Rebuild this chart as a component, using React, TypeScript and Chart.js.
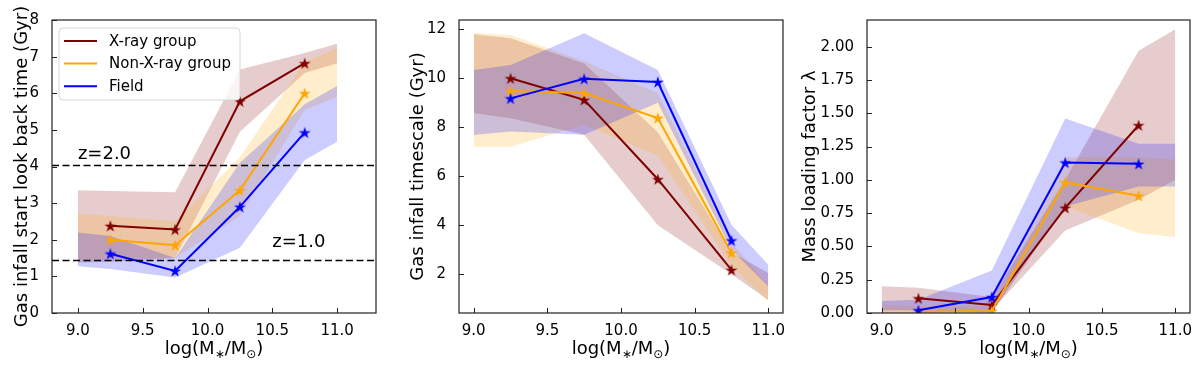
import React, { useEffect, useRef } from "react";
import { Chart, registerables } from "chart.js";
Chart.register(...registerables);

// ---------- shared data ----------
const massBins = [9.25, 9.75, 10.25, 10.75];
const bandMass = [9.0, 9.25, 9.75, 10.25, 10.75, 11.0];
const xTicks = [9.0, 9.5, 10.0, 10.5, 11.0];
const seriesNames = ["X-ray group", "Non-X-ray group", "Field"];
const seriesColors = ["#800000", "#ffa500", "#0000ff"];
const bandColors = ["rgba(128,0,0,0.2)", "rgba(255,165,0,0.2)", "rgba(0,0,255,0.2)"];

// ---------- panel 1: gas infall start look back time ----------
const startXray = [2.38, 2.28, 5.78, 6.82];
const startNonXray = [2.0, 1.85, 3.35, 6.0];
const startField = [1.62, 1.15, 2.9, 4.93];
const startXrayHi = [3.35, 3.33, 3.3, 6.65, 7.1, 7.35];
const startXrayLo = [1.37, 1.4, 1.5, 4.95, 6.55, 6.82];
const startNonXrayHi = [2.72, 2.65, 2.5, 4.25, 6.85, 7.23];
const startNonXrayLo = [1.45, 1.5, 1.5, 2.65, 5.55, 5.9];
const startFieldHi = [2.2, 2.1, 1.5, 4.1, 5.7, 6.2];
const startFieldLo = [1.28, 1.2, 0.97, 1.78, 4.18, 4.68];
const startTicks = [0, 1, 2, 3, 4, 5, 6, 7, 8];
const redshiftLabels = ["z=2.0", "z=1.0"];
const redshiftLookback = [4.04, 1.45];

// ---------- panel 2: gas infall timescale ----------
const tauXray = [10.0, 9.12, 5.88, 2.18];
const tauNonXray = [9.48, 9.4, 8.38, 2.88];
const tauField = [9.18, 9.98, 9.85, 3.38];
const tauXrayHi = [11.8, 11.63, 10.6, 7.8, 2.9, 2.05];
const tauXrayLo = [8.58, 8.37, 7.7, 4.0, 2.0, 0.95];
const tauNonXrayHi = [11.85, 11.77, 10.7, 9.4, 3.3, 1.55];
const tauNonXrayLo = [7.21, 7.21, 8.1, 6.85, 2.35, 0.9];
const tauFieldHi = [10.34, 10.54, 11.84, 10.34, 4.02, 2.39];
const tauFieldLo = [7.69, 7.83, 7.7, 9.0, 3.0, 1.5];
const tauTicks = [2, 4, 6, 8, 10, 12];

// ---------- panel 3: mass loading factor ----------
const lambdaXray = [0.11, 0.06, 0.79, 1.41];
const lambdaNonXray = [0.01, 0.015, 0.98, 0.88];
const lambdaField = [0.02, 0.12, 1.13, 1.12];
const lambdaXrayHi = [0.2, 0.19, 0.12, 1.0, 1.97, 2.13];
const lambdaXrayLo = [0.0, 0.0, 0.02, 0.62, 0.85, 1.0];
const lambdaNonXrayHi = [0.06, 0.05, 0.05, 1.17, 1.17, 1.15];
const lambdaNonXrayLo = [0.0, 0.0, 0.0, 0.8, 0.6, 0.57];
const lambdaFieldHi = [0.09, 0.1, 0.32, 1.46, 1.27, 1.27];
const lambdaFieldLo = [0.02, 0.02, 0.0, 0.8, 0.95, 0.95];
const lambdaTicks = [0, 0.25, 0.5, 0.75, 1.0, 1.25, 1.5, 1.75, 2.0];

const FONT = "'DejaVu Sans', sans-serif";

type PanelSpec = {
  left: number;
  width: number;
  yAxisWidth: number;
  padRight: number;
  xMin: number;
  xMax: number;
  yMin: number;
  yMax: number;
  yTicks: number[];
  yDecimals: number;
  yTitle: string;
  yTitleX: number;
  lines: number[][];
  hi: number[][];
  lo: number[][];
  legend: boolean;
  zLines: boolean;
};

const panels: PanelSpec[] = [
  {
    left: 0, width: 395, yAxisWidth: 52, padRight: 19,
    xMin: 8.8, xMax: 11.3, yMin: 0, yMax: 8, yTicks: startTicks, yDecimals: 0,
    yTitle: "Gas infall start look back time (Gyr)", yTitleX: 22,
    lines: [startXray, startNonXray, startField],
    hi: [startXrayHi, startNonXrayHi, startFieldHi],
    lo: [startXrayLo, startNonXrayLo, startFieldLo],
    legend: true, zLines: true,
  },
  {
    left: 395, width: 400, yAxisWidth: 64, padRight: 12,
    xMin: 8.9, xMax: 11.1, yMin: 0.42, yMax: 12.38, yTicks: tauTicks, yDecimals: 0,
    yTitle: "Gas infall timescale (Gyr)", yTitleX: 23,
    lines: [tauXray, tauNonXray, tauField],
    hi: [tauXrayHi, tauNonXrayHi, tauFieldHi],
    lo: [tauXrayLo, tauNonXrayLo, tauFieldLo],
    legend: false, zLines: false,
  },
  {
    left: 795, width: 405, yAxisWidth: 72, padRight: 10,
    xMin: 8.9, xMax: 11.1, yMin: 0, yMax: 2.2, yTicks: lambdaTicks, yDecimals: 2,
    yTitle: "Mass loading factor λ", yTitleX: 15,
    lines: [lambdaXray, lambdaNonXray, lambdaField],
    hi: [lambdaXrayHi, lambdaNonXrayHi, lambdaFieldHi],
    lo: [lambdaXrayLo, lambdaNonXrayLo, lambdaFieldLo],
    legend: false, zLines: false,
  },
];

function starImage(color: string, r = 6.3) {
  const size = 16;
  const c = document.createElement("canvas");
  c.width = size;
  c.height = size;
  const ctx = c.getContext("2d")!;
  const cx = size / 2;
  const cy = size / 2 + 0.6;
  const inner = r * 0.382;
  ctx.beginPath();
  for (let i = 0; i < 10; i++) {
    const rad = i % 2 === 0 ? r : inner;
    const a = -Math.PI / 2 + (i * Math.PI) / 5;
    const px = cx + rad * Math.cos(a);
    const py = cy + rad * Math.sin(a);
    if (i === 0) ctx.moveTo(px, py);
    else ctx.lineTo(px, py);
  }
  ctx.closePath();
  ctx.fillStyle = color;
  ctx.fill();
  return c;
}

function makePlugin(p: PanelSpec) {
  return {
    id: "decor",
    afterDatasetsDraw(chart: any) {
      if (!p.zLines) return;
      const { ctx, chartArea } = chart;
      const y = chart.scales.y;
      const x = chart.scales.x;
      ctx.save();
      ctx.strokeStyle = "#000";
      ctx.lineWidth = 1.7;
      ctx.setLineDash([7, 3.5]);
      redshiftLookback.forEach((v) => {
        const py = Math.round(y.getPixelForValue(v)) + 0.5;
        ctx.beginPath();
        ctx.moveTo(chartArea.left, py);
        ctx.lineTo(chartArea.right, py);
        ctx.stroke();
      });
      ctx.setLineDash([]);
      ctx.fillStyle = "#000";
      ctx.font = `18px ${FONT}`;
      ctx.textAlign = "left";
      ctx.textBaseline = "alphabetic";
      // label placement (data coordinates)
      const labelPos = [
        [9.0, 4.2],
        [10.5, 1.8],
      ];
      redshiftLabels.forEach((t, i) => {
        ctx.fillText(t, x.getPixelForValue(labelPos[i][0]), y.getPixelForValue(labelPos[i][1]));
      });
      ctx.restore();
    },
    afterDraw(chart: any) {
      const { ctx, chartArea } = chart;
      const xs = chart.scales.x;
      const ys = chart.scales.y;
      const { left, right, top, bottom } = chartArea;
      ctx.save();
      // frame
      ctx.strokeStyle = "#222";
      ctx.lineWidth = 1.2;
      ctx.strokeRect(left, top, right - left, bottom - top);
      // inward ticks
      ctx.lineWidth = 1;
      ctx.beginPath();
      xTicks.forEach((v) => {
        const px = Math.round(xs.getPixelForValue(v)) + 0.5;
        ctx.moveTo(px, bottom);
        ctx.lineTo(px, bottom - 5);
      });
      p.yTicks.forEach((v) => {
        const py = Math.round(ys.getPixelForValue(v)) + 0.5;
        ctx.moveTo(left, py);
        ctx.lineTo(left + 5, py);
      });
      ctx.stroke();
      // y title
      ctx.fillStyle = "#000";
      ctx.save();
      ctx.translate(p.yTitleX, (top + bottom) / 2);
      ctx.rotate(-Math.PI / 2);
      ctx.font = `18px ${FONT}`;
      ctx.textAlign = "center";
      ctx.textBaseline = "middle";
      ctx.fillText(p.yTitle, 0, 0);
      ctx.restore();
      // x title: log(M*/M⊙) with subscripts
      const parts: [string, number, number][] = [
        ["log(M", 18, 0],
        ["∗", 12, 4],
        ["/M", 18, 0],
        ["⊙", 12, 4],
        [")", 18, 0],
      ];
      let total = 0;
      parts.forEach(([t, s]) => {
        ctx.font = `${s}px ${FONT}`;
        total += ctx.measureText(t).width;
      });
      let cx = (left + right) / 2 - total / 2;
      const baseY = 354;
      ctx.textAlign = "left";
      ctx.textBaseline = "alphabetic";
      parts.forEach(([t, s, dy]) => {
        ctx.font = `${s}px ${FONT}`;
        ctx.fillText(t, cx, baseY + dy);
        cx += ctx.measureText(t).width;
      });
      // legend
      if (p.legend) {
        const bx = 59, by = 28, bw = 181, bh = 72, r = 4;
        ctx.beginPath();
        ctx.moveTo(bx + r, by);
        ctx.lineTo(bx + bw - r, by);
        ctx.quadraticCurveTo(bx + bw, by, bx + bw, by + r);
        ctx.lineTo(bx + bw, by + bh - r);
        ctx.quadraticCurveTo(bx + bw, by + bh, bx + bw - r, by + bh);
        ctx.lineTo(bx + r, by + bh);
        ctx.quadraticCurveTo(bx, by + bh, bx, by + bh - r);
        ctx.lineTo(bx, by + r);
        ctx.quadraticCurveTo(bx, by, bx + r, by);
        ctx.closePath();
        ctx.fillStyle = "rgba(255,255,255,0.8)";
        ctx.fill();
        ctx.strokeStyle = "#d6d6d6";
        ctx.lineWidth = 1;
        ctx.stroke();
        ctx.font = `15px ${FONT}`;
        ctx.textBaseline = "middle";
        seriesNames.forEach((n, i) => {
          const yy = 41 + i * 22.6;
          ctx.strokeStyle = seriesColors[i];
          ctx.lineWidth = 2;
          ctx.beginPath();
          ctx.moveTo(64, yy);
          ctx.lineTo(97, yy);
          ctx.stroke();
          ctx.fillStyle = "#000";
          ctx.fillText(n, 109, yy + 1);
        });
      }
      ctx.restore();
    },
  };
}

function Panel({ spec }: { spec: PanelSpec }) {
  const ref = useRef<HTMLCanvasElement>(null);
  useEffect(() => {
    const canvas = ref.current!;
    const datasets: any[] = [];
    spec.hi.forEach((hi, s) => {
      datasets.push({
        data: bandMass.map((m, i) => ({ x: m, y: hi[i] })),
        fill: "+1",
        backgroundColor: bandColors[s],
        borderWidth: 0,
        borderColor: "rgba(0,0,0,0)",
        pointRadius: 0,
        tension: 0,
        order: 20 - s,
      });
      datasets.push({
        data: bandMass.map((m, i) => ({ x: m, y: spec.lo[s][i] })),
        fill: false,
        borderWidth: 0,
        borderColor: "rgba(0,0,0,0)",
        pointRadius: 0,
        tension: 0,
        order: 20 - s,
      });
    });
    spec.lines.forEach((vals, s) => {
      datasets.push({
        data: massBins.map((m, i) => ({ x: m, y: vals[i] })),
        fill: false,
        borderColor: seriesColors[s],
        backgroundColor: seriesColors[s],
        borderWidth: 2,
        pointStyle: starImage(seriesColors[s]),
        pointRadius: 6,
        tension: 0,
        order: 5 - s,
      });
    });
    const tickFont = { family: FONT, size: 15 };
    const chart = new Chart(canvas, {
      type: "line",
      data: { datasets },
      options: {
        animation: false,
        responsive: false,
        devicePixelRatio: 1,
        layout: { padding: { top: 20, right: spec.padRight, left: 0, bottom: 0 } },
        plugins: { legend: { display: false }, tooltip: { enabled: false } },
        scales: {
          x: {
            type: "linear",
            min: spec.xMin,
            max: spec.xMax,
            grid: { display: false },
            border: { display: false },
            afterBuildTicks: (s: any) => {
              s.ticks = xTicks.map((v) => ({ value: v }));
            },
            afterFit: (s: any) => {
              s.height = 54;
            },
            ticks: {
              font: tickFont,
              color: "#000",
              padding: 1,
              maxRotation: 0,
              autoSkip: false,
              callback: (v: any) => Number(v).toFixed(1),
            },
          },
          y: {
            type: "linear",
            min: spec.yMin,
            max: spec.yMax,
            grid: { display: false },
            border: { display: false },
            afterBuildTicks: (s: any) => {
              s.ticks = spec.yTicks.map((v) => ({ value: v }));
            },
            afterFit: (s: any) => {
              s.width = spec.yAxisWidth;
            },
            ticks: {
              font: tickFont,
              color: "#000",
              padding: 5,
              autoSkip: false,
              callback: (v: any) => Number(v).toFixed(spec.yDecimals),
            },
          },
        },
      } as any,
      plugins: [makePlugin(spec) as any],
    });
    return () => chart.destroy();
  }, [spec]);
  return (
    <canvas
      ref={ref}
      width={spec.width}
      height={367}
      style={{ position: "absolute", left: spec.left, top: 0, width: spec.width, height: 367 }}
    />
  );
}

export default function App() {
  return (
    <div style={{ position: "absolute", left: 0, top: 0, width: 1200, height: 367, background: "#fff" }}>
      {panels.map((p, i) => (
        <Panel key={i} spec={p} />
      ))}
    </div>
  );
}
